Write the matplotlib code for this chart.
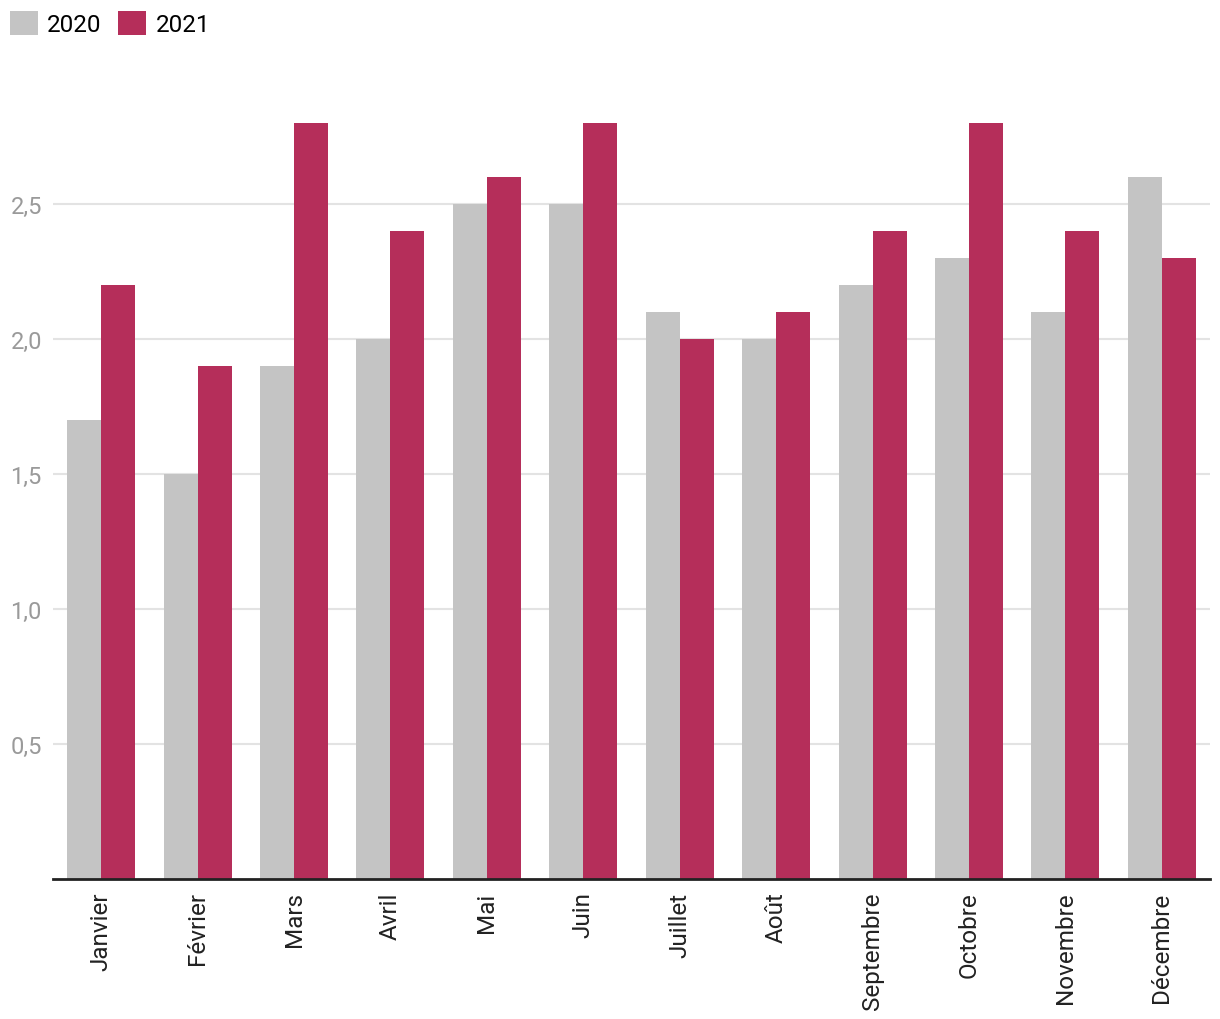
import matplotlib.pyplot as plt
import numpy as np

plt.rcParams['font.family'] = ['Roboto', 'DejaVu Sans']

mois = ['Janvier', 'Février', 'Mars', 'Avril', 'Mai', 'Juin', 'Juillet',
        'Août', 'Septembre', 'Octobre', 'Novembre', 'Décembre']
v2020 = [1.7, 1.5, 1.9, 2.0, 2.5, 2.5, 2.1, 2.0, 2.2, 2.3, 2.1, 2.6]
v2021 = [2.2, 1.9, 2.8, 2.4, 2.6, 2.8, 2.0, 2.1, 2.4, 2.8, 2.4, 2.3]
yticks = [0.5, 1.0, 1.5, 2.0, 2.5]

gris = '#c4c4c4'
rouge = '#b52e5a'

fig = plt.figure(figsize=(12.2, 10.2), dpi=100)
ax = fig.add_axes([53/1220, 140/1020, (1210-53)/1220, (880-124)/1020])

x = np.arange(len(mois))
w = 0.353
ax.bar(x - w/2, v2020, w, color=gris, label='2020', zorder=2)
ax.bar(x + w/2, v2021, w, color=rouge, label='2021', zorder=2)

ax.set_xlim(-0.5, len(mois) - 0.5)
ax.set_ylim(0, 2.8)
ax.set_yticks(yticks)
ax.set_yticklabels([('%.1f' % v).replace('.', ',') for v in yticks])
ax.set_xticks(x)
ax.set_xticklabels(mois, rotation=90, va='top', ha='center')
ax.tick_params(axis='y', length=0, pad=8, labelsize=17, labelcolor='#9a9a9a')
ax.tick_params(axis='x', length=0, pad=9, labelsize=17.5, labelcolor='#222222')
ax.grid(axis='y', color='#e3e3e3', lw=1.5, zorder=0)
for s in ['top', 'right', 'left']:
    ax.spines[s].set_visible(False)
ax.spines['bottom'].set_color('#222222')
ax.spines['bottom'].set_linewidth(2)
ax.spines['bottom'].set_zorder(3)

fig.legend(loc='upper left', bbox_to_anchor=(10/1220, 1 - 12/1020), ncol=2, frameon=False,
           fontsize=17.5, handlelength=1.15, handleheight=1.15, handletextpad=0.37,
           columnspacing=0.7, borderaxespad=0, borderpad=0)

fig.savefig('out.png', dpi=100)
